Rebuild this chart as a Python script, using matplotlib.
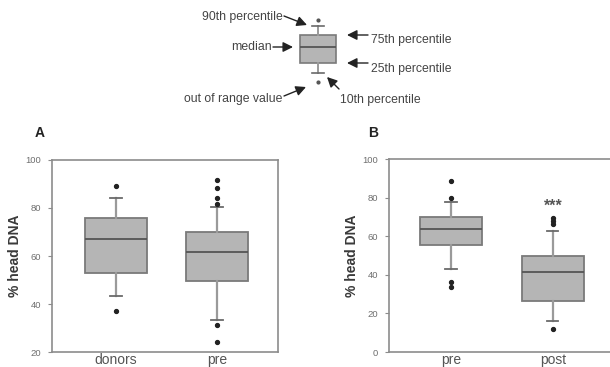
import matplotlib
matplotlib.use("Agg")
import matplotlib.pyplot as plt

plt.rcParams['font.family'] = ['Liberation Sans', 'DejaVu Sans']

# ---- data ----
cats_a = ["donors", "pre"]
a_whislo = [43.5, 33.3]
a_q1 = [53.0, 49.7]
a_med = [67.0, 61.6]
a_q3 = [76.0, 70.1]
a_whishi = [84.2, 80.6]
a_fliers = [[89.3, 37.1], [91.7, 88.2, 84.3, 81.5, 31.2, 24.3]]

cats_b = ["pre", "post"]
b_whislo = [43.0, 15.9]
b_q1 = [55.4, 26.3]
b_med = [63.7, 41.3]
b_q3 = [70.1, 49.7]
b_whishi = [77.7, 62.7]
b_fliers = [[88.4, 79.8, 36.4, 33.5], [69.2, 67.7, 66.3, 12.1]]

a_yticks = [20, 40, 60, 80, 100]
b_yticks = [0, 20, 40, 60, 80, 100]
signif_text = "***"
signif_y = 75.6

# key diagram (arbitrary units)
key_stats = dict(whislo=9, q1=19, med=35, q3=47, whishi=56, fliers=[0, 62])

W, H = 610, 367
fig = plt.figure(figsize=(W / 100, H / 100), dpi=100)

BOX_FILL = '#b5b5b5'
BOX_EDGE = '#7a7a7a'
MED = '#555555'
WHISK = '#9a9a9a'
CAP = '#6a6a6a'
SPINE = '#8c8c8c'
TICKLBL = '#6e6e6e'


def fx(px):
    return px / W


def fy(py):
    return 1 - py / H


def make_stats(cats, lo, q1, med, q3, hi, fl):
    out = []
    for i, c in enumerate(cats):
        out.append(dict(label=c, whislo=lo[i], q1=q1[i], med=med[i], q3=q3[i],
                        whishi=hi[i], fliers=fl[i]))
    return out


def draw_boxes(ax, stats, width, capw):
    ax.bxp(stats, positions=list(range(1, len(stats) + 1)), widths=width,
           capwidths=capw, patch_artist=True, showfliers=True,
           boxprops=dict(facecolor=BOX_FILL, edgecolor=BOX_EDGE, linewidth=1.3),
           medianprops=dict(color=MED, linewidth=1.3),
           whiskerprops=dict(color=WHISK, linewidth=1.6),
           capprops=dict(color=CAP, linewidth=1.3),
           flierprops=dict(marker='o', markersize=2.8, markerfacecolor='#222222',
                           markeredgecolor='#222222', linestyle='none'))


def style_axes(ax, yticks, ylim):
    ax.set_ylim(*ylim)
    ax.set_yticks(yticks)
    ax.set_yticklabels([str(t) for t in yticks])
    for s in ax.spines.values():
        s.set_color(SPINE)
        s.set_linewidth(1.2)
    ax.tick_params(axis='y', length=3, width=0.8, color=SPINE, labelsize=6.8,
                   labelcolor=TICKLBL, pad=5)
    ax.tick_params(axis='x', length=0, labelsize=10, labelcolor='#555555', pad=1)
    ax.set_ylabel("% head DNA", fontsize=10, fontweight='bold', color='#3a3a3a',
                  labelpad=2)


# ---- panel A ----
axA = fig.add_axes([fx(52), fy(352), fx(278 - 52), fy(160) - fy(352)])
draw_boxes(axA, make_stats(cats_a, a_whislo, a_q1, a_med, a_q3, a_whishi, a_fliers),
           0.62, 0.11)
axA.set_xlim(0.366, 2.604)
axA.set_xticks([1, 2])
axA.set_xticklabels(cats_a)
style_axes(axA, a_yticks, (20, 100))
fig.text(fx(35), fy(133), "A", fontsize=10, fontweight='bold', color='#222222',
         va='center', ha='left')

# ---- panel B ----
axB = fig.add_axes([fx(389), fy(352), fx(616 - 389), fy(159) - fy(352)])
draw_boxes(axB, make_stats(cats_b, b_whislo, b_q1, b_med, b_q3, b_whishi, b_fliers),
           0.61, 0.11)
axB.set_xlim(0.392, 2.62)
axB.set_xticks([1, 2])
axB.set_xticklabels(cats_b)
style_axes(axB, b_yticks, (0, 100))
axB.text(2, signif_y, signif_text, ha='center', va='center', fontsize=11.5,
         fontweight='bold', color='#555555')
fig.text(fx(368), fy(133), "B", fontsize=10, fontweight='bold', color='#222222',
         va='center', ha='left')

# ---- key diagram ----
axK = fig.add_axes([fx(290), fy(90), fx(346 - 290), fy(15) - fy(90)])
kst = dict(key_stats)
kst['label'] = ''
axK.bxp([kst], positions=[1], widths=0.643, capwidths=0.2, patch_artist=True,
        boxprops=dict(facecolor=BOX_FILL, edgecolor=BOX_EDGE, linewidth=1.2),
        medianprops=dict(color=MED, linewidth=1.3),
        whiskerprops=dict(color=WHISK, linewidth=1.4),
        capprops=dict(color=CAP, linewidth=1.2),
        flierprops=dict(marker='o', markersize=2, markerfacecolor='#555555',
                        markeredgecolor='#555555', linestyle='none'))
axK.set_xlim(0.5, 1.5)
axK.set_ylim(-8, 67)
axK.axis('off')

KEYTXT = '#444444'
arrowprops = dict(arrowstyle='-|>,head_length=0.6,head_width=0.3', color='#222222',
                  lw=1.0, shrinkA=0, shrinkB=0)


def fig_pt(px, py):
    return (px, H - py)


def key_label(text, xy_tail, xy_head, text_xy, ha):
    fig.text(fx(text_xy[0]), fy(text_xy[1]), text, fontsize=8.8, color=KEYTXT,
             ha=ha, va='center')
    axK.annotate('', xy=fig_pt(*xy_head), xycoords='figure pixels',
                 xytext=fig_pt(*xy_tail), textcoords='figure pixels',
                 arrowprops=arrowprops, annotation_clip=False)


key_label("90th percentile", (284, 16), (307, 25), (283, 17), 'right')
key_label("median", (273, 47), (293, 47), (272, 47), 'right')
key_label("75th percentile", (368, 35), (347, 35), (371, 40), 'left')
key_label("25th percentile", (368, 63), (347, 63), (371, 69), 'left')
key_label("out of range value", (284, 96), (306, 87), (282, 99), 'right')
key_label("10th percentile", (339, 89), (327, 77), (340, 100), 'left')

fig.savefig("out.png", dpi=100)
